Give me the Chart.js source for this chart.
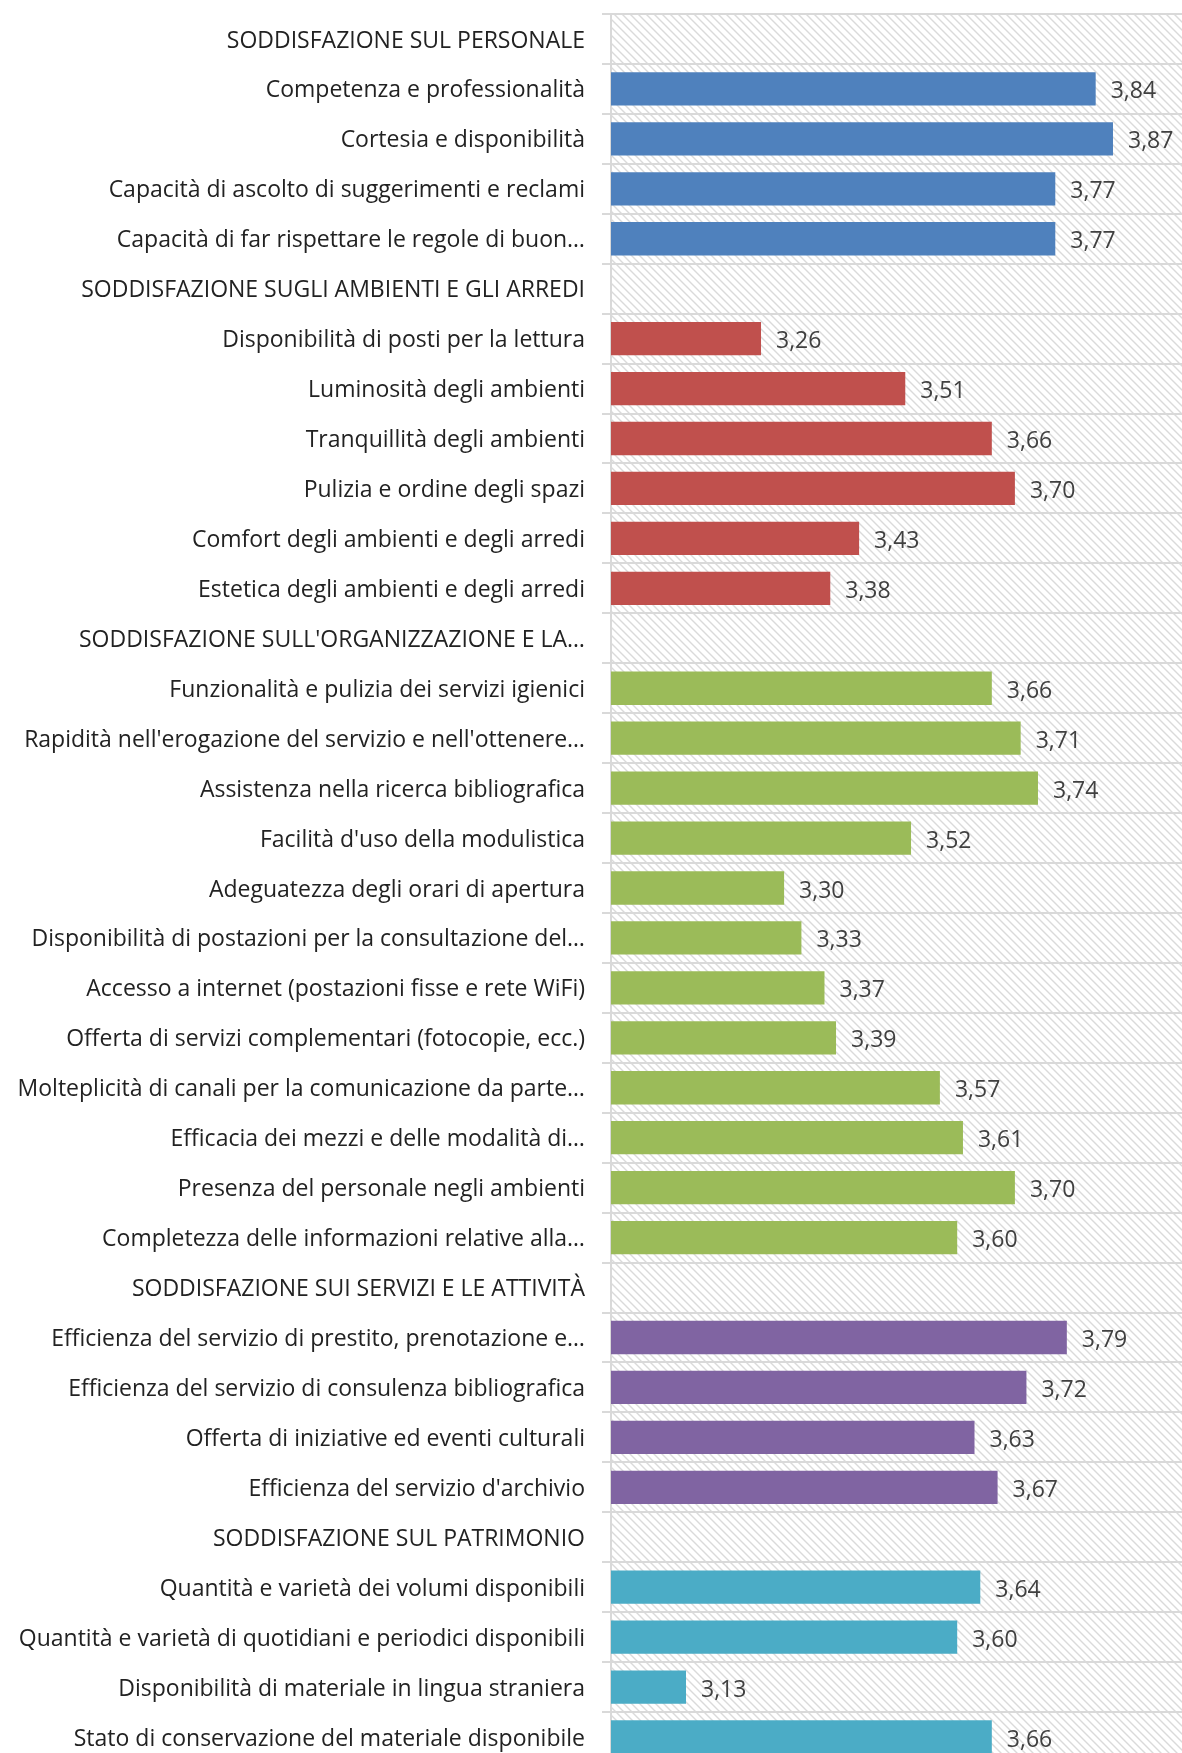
<!DOCTYPE html>
<html>
<head>
<meta charset="utf-8">
<script src="https://cdn.jsdelivr.net/npm/chart.js@4/dist/chart.umd.min.js"></script>
<style>
  html, body { margin: 0; padding: 0; background: #fff; overflow: hidden; }
  #wrap { width: 1190px; height: 1762px; position: relative; }
</style>
</head>
<body>
<div id="wrap"><canvas id="chart"></canvas></div>
<script>
// categories, top to bottom (section headers have no value)
const labels = [
  'SODDISFAZIONE SUL PERSONALE',
  'Competenza e professionalità',
  'Cortesia e disponibilità',
  'Capacità di ascolto di suggerimenti e reclami',
  'Capacità di far rispettare le regole di buon…',
  'SODDISFAZIONE SUGLI AMBIENTI E GLI ARREDI',
  'Disponibilità di posti per la lettura',
  'Luminosità degli ambienti',
  'Tranquillità degli ambienti',
  'Pulizia e ordine degli spazi',
  'Comfort degli ambienti e degli arredi',
  'Estetica degli ambienti e degli arredi',
  "SODDISFAZIONE SULL'ORGANIZZAZIONE E LA…",
  'Funzionalità e pulizia dei servizi igienici',
  "Rapidità nell'erogazione del servizio e nell'ottenere…",
  'Assistenza nella ricerca bibliografica',
  "Facilità d'uso della modulistica",
  'Adeguatezza degli orari di apertura',
  'Disponibilità di postazioni per la consultazione del…',
  'Accesso a internet (postazioni fisse e rete WiFi)',
  'Offerta di servizi complementari (fotocopie, ecc.)',
  'Molteplicità di canali per la comunicazione da parte…',
  'Efficacia dei mezzi e delle modalità di…',
  'Presenza del personale negli ambienti',
  'Completezza delle informazioni relative alla…',
  'SODDISFAZIONE SUI SERVIZI E LE ATTIVITÀ',
  'Efficienza del servizio di prestito, prenotazione e…',
  'Efficienza del servizio di consulenza bibliografica',
  'Offerta di iniziative ed eventi culturali',
  "Efficienza del servizio d'archivio",
  'SODDISFAZIONE SUL PATRIMONIO',
  'Quantità e varietà dei volumi disponibili',
  'Quantità e varietà di quotidiani e periodici disponibili',
  'Disponibilità di materiale in lingua straniera',
  'Stato di conservazione del materiale disponibile'
];

const values = [
  null, 3.84, 3.87, 3.77, 3.77,
  null, 3.26, 3.51, 3.66, 3.70, 3.43, 3.38,
  null, 3.66, 3.71, 3.74, 3.52, 3.30, 3.33, 3.37, 3.39, 3.57, 3.61, 3.70, 3.60,
  null, 3.79, 3.72, 3.63, 3.67,
  null, 3.64, 3.60, 3.13, 3.66
];

const sectionColors = ['#4F81BD', '#C0504D', '#9BBB59', '#8064A2', '#4BACC6'];

const axisMin = 3;
const axisMax = 4;

// each header row starts a new colour section
let section = -1;
const barColors = values.map(v => {
  if (v === null) section++;
  return sectionColors[Math.max(section, 0)];
});

const FONT = "'Open Sans', sans-serif";
const FONT_SIZE = 23;

function makeHatch() {
  const s = 8;
  const c = document.createElement('canvas');
  c.width = s;
  c.height = s;
  const g = c.getContext('2d');
  g.fillStyle = '#ffffff';
  g.fillRect(0, 0, s, s);
  g.strokeStyle = '#dadada';
  g.lineWidth = 1.4;
  g.beginPath();
  g.moveTo(-1, -1); g.lineTo(s + 1, s + 1);
  g.moveTo(-1, s - 1); g.lineTo(1, s + 1);
  g.moveTo(s - 1, -1); g.lineTo(s + 1, 1);
  g.stroke();
  return g.createPattern(c, 'repeat');
}

const hatchBackground = {
  id: 'hatchBackground',
  beforeDraw(chart) {
    const { ctx, chartArea: a } = chart;
    ctx.save();
    ctx.fillStyle = makeHatch();
    ctx.fillRect(a.left, a.top, a.right - a.left, a.bottom - a.top);
    ctx.restore();
  }
};

const valueLabels = {
  id: 'valueLabels',
  afterDatasetsDraw(chart) {
    const { ctx } = chart;
    const meta = chart.getDatasetMeta(0);
    ctx.save();
    ctx.font = FONT_SIZE + 'px ' + FONT;
    ctx.fillStyle = '#404040';
    ctx.textAlign = 'left';
    ctx.textBaseline = 'middle';
    meta.data.forEach((bar, i) => {
      const v = values[i];
      if (v === null) return;
      ctx.fillText(v.toFixed(2).replace('.', ','), bar.x + 15, bar.y + 3);
    });
    ctx.restore();
  }
};

new Chart(document.getElementById('chart'), {
  type: 'bar',
  data: {
    labels: labels,
    datasets: [{
      data: values,
      backgroundColor: barColors,
      borderWidth: 0,
      barPercentage: 0.667,
      categoryPercentage: 1
    }]
  },
  options: {
    indexAxis: 'y',
    responsive: true,
    maintainAspectRatio: false,
    animation: false,
    layout: { padding: { top: 14, right: 2, bottom: 0, left: 0 } },
    plugins: {
      legend: { display: false },
      tooltip: { enabled: false }
    },
    scales: {
      x: {
        display: false,
        min: axisMin,
        max: axisMax
      },
      y: {
        afterFit(scale) {
          scale.width = 611;
          scale.paddingTop = 0;
          scale.paddingBottom = 0;
        },
        grid: {
          offset: true,
          color: '#d9d9d9',
          lineWidth: 2,
          tickLength: 9
        },
        border: { color: '#d9d9d9', width: 2 },
        ticks: {
          autoSkip: false,
          color: '#222222',
          padding: 17,
          labelOffset: 2,
          font: { family: FONT, size: FONT_SIZE }
        }
      }
    }
  },
  plugins: [hatchBackground, valueLabels]
});
</script>
</body>
</html>
